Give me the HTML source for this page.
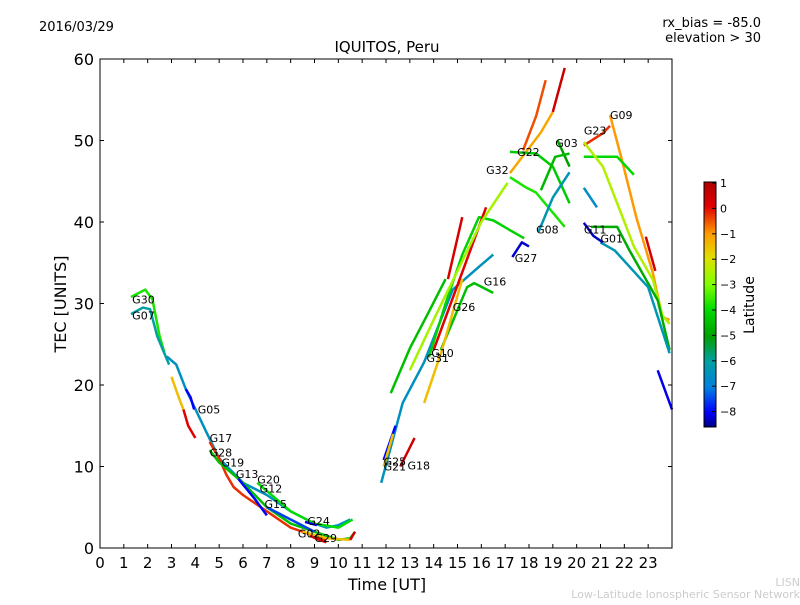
<!DOCTYPE html>
<html><head><meta charset="utf-8"><style>
body{margin:0;background:#fff;width:800px;height:600px;overflow:hidden;font-family:"Liberation Sans","DejaVu Sans",sans-serif}
</style></head><body>
<svg id="chart" width="800" height="600" xmlns="http://www.w3.org/2000/svg" font-family="DejaVu Sans, Liberation Sans, sans-serif">
<defs><linearGradient id="cbg" x1="0" y1="1" x2="0" y2="0">
<stop offset="0" stop-color="#000080"/><stop offset="0.06" stop-color="#0000ff"/><stop offset="0.16" stop-color="#0080e0"/><stop offset="0.27" stop-color="#00a0a0"/><stop offset="0.37" stop-color="#00a000"/><stop offset="0.48" stop-color="#00dd00"/><stop offset="0.58" stop-color="#80ff00"/><stop offset="0.69" stop-color="#e0e000"/><stop offset="0.79" stop-color="#ff9900"/><stop offset="0.9" stop-color="#e00000"/><stop offset="1" stop-color="#b00000"/>
</linearGradient></defs>
<text x="39" y="31" font-size="13">2016/03/29</text>
<text x="761" y="27" font-size="13" text-anchor="end">rx_bias = -85.0</text>
<text x="761" y="42" font-size="13" text-anchor="end">elevation &gt; 30</text>
<text x="387" y="52" font-size="15" text-anchor="middle">IQUITOS, Peru</text>
<g id="plot"></g>
<rect x="100" y="59" width="572" height="489" fill="none" stroke="#000" stroke-width="1"/>
<g id="axes"></g>
<text x="387" y="590" font-size="16" text-anchor="middle">Time [UT]</text>
<text transform="translate(66,304) rotate(-90)" font-size="16" text-anchor="middle">TEC [UNITS]</text>
<rect x="704" y="182" width="12" height="245" fill="url(#cbg)" stroke="#000" stroke-width="1"/>
<g id="cbticks"></g>
<text transform="translate(754,305) rotate(-90)" font-size="14" text-anchor="middle">Latitude</text>
<text x="800" y="586" font-size="11" fill="#ccc" text-anchor="end">LISN</text>
<text x="800" y="598" font-size="11" fill="#ccc" text-anchor="end">Low-Latitude Ionospheric Sensor Network</text>
</svg>
<script>
const xTicks=[0,1,2,3,4,5,6,7,8,9,10,11,12,13,14,15,16,17,18,19,20,21,22,23];
const yTicks=[0,10,20,30,40,50,60];
const cbTicks=[1,0,-1,-2,-3,-4,-5,-6,-7,-8];
const trackLat=[-3.8,-6,-6.5,-8,-1.5,0,-0.3,-4.5,-8,-4,-7.5,0,-8,-1.5,0.3,
-6.5,-4.2,-4.5,-1.5,0.2,0,-1.2,0.4,-0.5,-2.6,-4.3,-3.8,-5,-4.6,-6.3,-8.2,
-0.3,-1,-4.1,-2.5,-4.8,-6.3,-8.3,-6.6,-8.1,0.3,
0.3,-8,-1.5,-4.5];
const trackTime=[
[1.3,1.9,2.2,2.5,2.7],
[1.3,1.8,2.1,2.4,2.9],
[2.8,3.2,3.6,4.5,5,6,7,8,9,9.5,10,10.5],
[3.6,3.8,3.95],
[3,3.3,3.5],
[3.5,3.7,4],
[4.6,5,5.3,5.6,6,7,8,9,9.5],
[4.6,5,6,7,8,9,10,10.5,10.7],
[5.8,6.5,7],
[6.6,7,8,9,10,10.6],
[7,8,9],
[8.8,9.2,9.5],
[8.6,9.1],
[8.5,9.5,10.5],
[10.5,10.7],
[11.8,12.7,13.6,14.8,15.9,16.5],
[13.8,14.5,15.2,15.9,16.5,17.2,17.8],
[14.3,15.4,15.7,16.5],
[13.6,14.35,15.2],
[14.6,15.2],
[14,16.2],
[17.2,18.5,19],
[19,19.5],
[17.75,18.3,18.7],
[13,14,15,16,17.1],
[17.2,18.3,19,19.7],
[17.2,17.9,18.3,19.5],
[19.2,19.7],
[18.5,19.1,19.7],
[18.4,19,19.7],
[17.3,17.7,18],
[20.3,21.1,21.4],
[21.4,21.9,22.5,23.2,23.6,23.9],
[20.3,21.7,22.4],
[20.3,21.1,21.7,22.4,23.2,23.6,23.9],
[20.6,21.7,22.2,23.4,23.9],
[21,21.6,23,23.9],
[20.3,20.7,21.1],
[20.3,20.85],
[23.4,24],
[22.9,23.3],
[12.6,13.2],
[11.9,12.4],
[11.9,12.3],
[12.2,13,13.8,14.5]];
const trackTec=[
[30.8,31.7,30.5,26,24],
[28.7,29.5,29.3,26,22.5],
[23.5,22.5,19.5,14,11,8,6.5,4.5,3,2.5,2.8,3.5],
[19.5,18.5,17],
[21,18.5,17],
[17,15,13.5],
[13,11,9,7.5,6.5,4.5,2.5,1.5,1],
[12,10.5,8,5,3,2,1,1.2,2],
[8.5,6,4],
[8,7,4.5,3,2.5,3.5],
[5,3.5,2],
[1.5,1,0.7],
[3.2,2.8],
[2,1.2,1],
[1,2],
[8,17.8,22.8,31.7,34.5,36],
[23.4,30,36,40.6,40.2,39,38],
[24.3,32,32.5,31.3],
[17.8,24.3,33],
[33,40.6],
[24.3,41.8],
[46,51,53.5],
[53.5,58.9],
[48.8,53,57.4],
[21.8,28,34,40,44.8],
[48.6,48.4,46.8,42.3],
[45.5,44.2,43.6,39.4],
[50,46.8],
[43.9,48,48.4],
[38.8,43,46.1],
[35.7,37.5,37],
[49.4,50.9,51.8],
[53.1,47.6,40.6,33.7,28.3,28],
[48,48,45.8],
[49.8,46.8,42.3,37,32.9,28.5,27.5],
[39.4,39.4,36.6,30.4,24.3],
[37.5,36.5,32,23.9],
[39.9,38.3,37.5],
[44.2,41.8],
[21.8,17],
[38.2,34],
[10,13.5],
[10.8,15],
[10,14],
[19,24.5,29,33]];
const labelNames=["G30","G07","G05","G17","G28","G19","G13","G20","G12","G15","G24","G02","G29","G25","G21","G18","G31","G10","G26","G16","G32","G22","G27","G08","G03","G23","G09","G11","G01"];
const labelTime=[1.35,1.35,4.1,4.6,4.6,5.1,5.7,6.6,6.7,6.9,8.7,8.3,9.0,11.9,11.9,12.9,13.7,13.9,14.8,16.1,16.2,17.5,17.4,18.3,19.1,20.3,21.4,20.3,21.0];
const labelTec=[30.5,28.5,17,13.5,11.7,10.5,9.1,8.4,7.3,5.4,3.3,1.8,1.2,10.6,10.0,10.1,23.3,23.9,29.6,32.7,46.4,48.6,35.6,39.1,49.7,51.2,53.1,39.1,38.0];
const NS='http://www.w3.org/2000/svg';
const X=t=>100+t*572/24, Y=v=>548-v*489/60, CB=l=>183+(1-l)*25.4;
const stops=[[-8.6,[0,0,128]],[-8,[0,0,255]],[-7,[0,128,224]],[-6,[0,160,160]],[-5,[0,160,0]],[-4,[0,221,0]],[-3,[128,255,0]],[-2,[224,224,0]],[-1,[255,153,0]],[0,[224,0,0]],[1,[176,0,0]]];
function col(l){for(let i=0;i<stops.length-1;i++){const a=stops[i],b=stops[i+1];if(l<=b[0]||i==stops.length-2){let f=Math.max(0,Math.min(1,(l-a[0])/(b[0]-a[0])));return 'rgb('+a[1].map((c,k)=>Math.round(c+(b[1][k]-c)*f)).join(',')+')';}}}
const plot=document.getElementById('plot'),axes=document.getElementById('axes'),cbt=document.getElementById('cbticks');
trackTime.forEach((ts,i)=>{const p=document.createElementNS(NS,'polyline');
p.setAttribute('points',ts.map((t,j)=>X(t)+','+Y(trackTec[i][j])).join(' '));
p.setAttribute('fill','none');p.setAttribute('stroke',col(trackLat[i]));p.setAttribute('stroke-width','2.5');p.setAttribute('stroke-linejoin','round');


plot.appendChild(p);});
labelNames.forEach((n,i)=>{const t=document.createElementNS(NS,'text');t.setAttribute('x',X(labelTime[i]));t.setAttribute('y',Y(labelTec[i])+4);t.setAttribute('font-size','11');t.textContent=n;


plot.appendChild(t);});
xTicks.forEach(v=>{const l=document.createElementNS(NS,'line');l.setAttribute('x1',X(v));l.setAttribute('x2',X(v));l.setAttribute('y1',548);l.setAttribute('y2',544);l.setAttribute('stroke','#000');


axes.appendChild(l);
const l2=l.cloneNode();l2.setAttribute('y1',59);l2.setAttribute('y2',63);axes.appendChild(l2);
const t=document.createElementNS(NS,'text');t.setAttribute('x',X(v));t.setAttribute('y',568);t.setAttribute('font-size','15');t.setAttribute('text-anchor','middle');t.textContent=v;


axes.appendChild(t);});
yTicks.forEach(v=>{const l=document.createElementNS(NS,'line');l.setAttribute('x1',100);l.setAttribute('x2',104);l.setAttribute('y1',Y(v));l.setAttribute('y2',Y(v));l.setAttribute('stroke','#000');


axes.appendChild(l);
const l2=l.cloneNode();l2.setAttribute('x1',668);l2.setAttribute('x2',672);axes.appendChild(l2);
const t=document.createElementNS(NS,'text');t.setAttribute('x',94);t.setAttribute('y',Y(v)+6);t.setAttribute('font-size','16');t.setAttribute('text-anchor','end');t.textContent=v;


axes.appendChild(t);});
cbTicks.forEach(v=>{const l=document.createElementNS(NS,'line');l.setAttribute('x1',712);l.setAttribute('x2',716);l.setAttribute('y1',CB(v));l.setAttribute('y2',CB(v));l.setAttribute('stroke','#000');


cbt.appendChild(l);
const t=document.createElementNS(NS,'text');t.setAttribute('x',720);t.setAttribute('y',CB(v)+4);t.setAttribute('font-size','11');t.textContent=v<0?'\u2212'+(-v):v;


cbt.appendChild(t);});
</script>
</body></html>
